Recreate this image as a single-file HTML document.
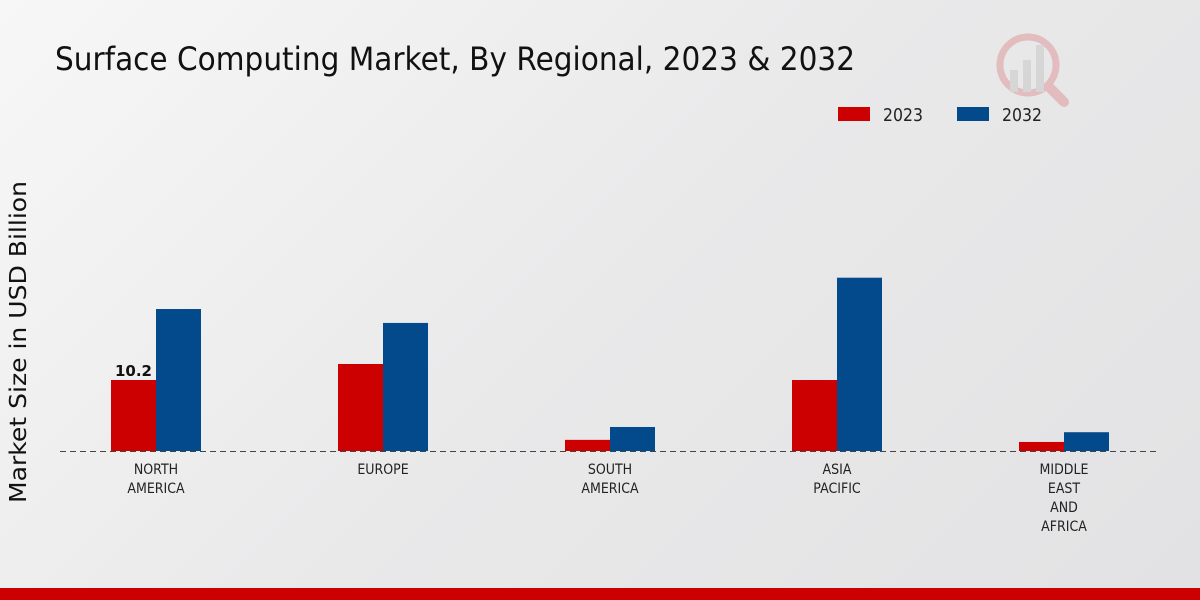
<!DOCTYPE html>
<html><head><meta charset="utf-8"><style>
html,body{margin:0;padding:0;width:1200px;height:600px;overflow:hidden}
body{background:linear-gradient(135deg,#f7f7f7 0%,#e9e9ea 50%,#e2e2e4 100%)}
svg text{font-family:"DejaVu Sans","Liberation Sans",sans-serif}
</style></head><body>
<svg id="chart" width="1200" height="600">
<text x="55" y="70" font-size="32" textLength="800" lengthAdjust="spacingAndGlyphs" fill="#111">Surface Computing Market, By Regional, 2023 &amp; 2032</text>
<g opacity="0.18">
<circle cx="1028" cy="65" r="28" fill="none" stroke="#c00" stroke-width="7"/>
<rect x="1010" y="70" width="8" height="22" fill="#888"/><rect x="1023" y="60" width="8" height="32" fill="#888"/><rect x="1036" y="45" width="8" height="47" fill="#888"/>
<line x1="1050" y1="88" x2="1064" y2="102" stroke="#c00" stroke-width="10" stroke-linecap="round"/>
</g>
<g>
<rect x="838" y="107" width="32" height="14" fill="#cc0000"/>
<text x="883" y="121" font-size="18" textLength="40" lengthAdjust="spacingAndGlyphs" fill="#222">2023</text>
<rect x="957" y="107" width="32" height="14" fill="#034a8c"/>
<text x="1002" y="121" font-size="18" textLength="40" lengthAdjust="spacingAndGlyphs" fill="#222">2032</text>
</g>
<text transform="translate(26,342) rotate(-90)" text-anchor="middle" font-size="23" textLength="322" lengthAdjust="spacingAndGlyphs" fill="#111">Market Size in USD Billion</text>
<g id="bars"></g>
<line x1="60" y1="451.5" x2="1160" y2="451.5" stroke="#444" stroke-width="1" stroke-dasharray="6,4"/>
<g id="labels"></g>
<rect x="0" y="588" width="1200" height="12" fill="#cc0000"/>
</svg>
<script>
const categories=[["NORTH","AMERICA"],["EUROPE"],["SOUTH","AMERICA"],["ASIA","PACIFIC"],["MIDDLE","EAST","AND","AFRICA"]];
const values2023=[10.2,12.5,1.6,10.2,1.3];
const values2032=[20.4,18.4,3.45,24.9,2.7];
const ns="http://www.w3.org/2000/svg";
const base=451, scale=6.96, x0=156, step=227, bw=45;
function y(v){return base-v*scale;}
function cx(i){return x0+i*step;}
const bars=document.getElementById('bars'), labels=document.getElementById('labels');
function mk(tag,attrs){const e=document.createElementNS(ns,tag);for(const k in attrs)e.setAttribute(k,attrs[k]);return e;}
categories.forEach((c,i)=>{
  const r=mk('rect',{x:cx(i)-bw,y:y(values2023[i]),width:bw,height:values2023[i]*scale,fill:'#cc0000'});
  
  
  bars.appendChild(r);
  const b=mk('rect',{x:cx(i),y:y(values2032[i]),width:bw,height:values2032[i]*scale,fill:'#034a8c'});
  
  
  bars.appendChild(b);
  c.forEach((line,j)=>{
    const t=mk('text',{x:cx(i),y:474+j*19,'text-anchor':'middle','font-size':'14',fill:'#222',transform:`translate(${cx(i)},0) scale(0.9,1) translate(${-cx(i)},0)`});
    t.textContent=line;
    
    
    labels.appendChild(t);
  });
});
const vl=mk('text',{x:cx(0)-bw/2,y:y(values2023[0])-4,'text-anchor':'middle','font-size':'15','font-weight':'bold',fill:'#111'});
vl.textContent=values2023[0];


labels.appendChild(vl);
</script>
</body></html>
